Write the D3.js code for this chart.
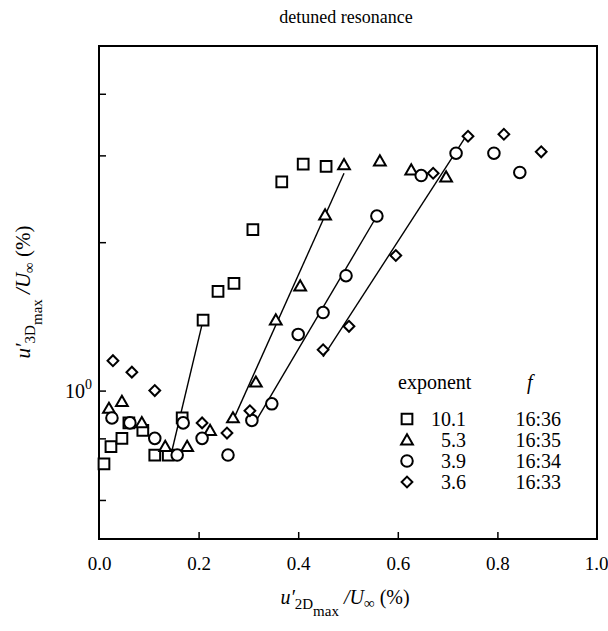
<!DOCTYPE html>
<html><head><meta charset="utf-8">
<script src="https://cdn.jsdelivr.net/npm/d3@7"></script>
<style>body{margin:0;background:#fff} text{font-family:"Liberation Serif","DejaVu Serif","Times New Roman",Times,serif}</style>
</head><body>
<svg id="c" width="608" height="631"></svg>
<script>
// ---- data ----
const xTicks = [0.0, 0.2, 0.4, 0.6, 0.8, 1.0];
const yTicks = [0.6, 0.8, 1, 2, 3, 4];
const seriesNames = ["square", "triangle", "circle", "diamond"];
const exponents = ["10.1", "5.3", "3.9", "3.6"];
const fTimes = ["16:36", "16:35", "16:34", "16:33"];

const sqX = [0.010,0.024,0.046,0.060,0.088,0.112,0.139,0.167,0.209,0.239,0.271,0.309,0.367,0.410,0.456];
const sqY = [0.71,0.77,0.80,0.86,0.83,0.74,0.74,0.88,1.39,1.59,1.65,2.12,2.65,2.88,2.85];
const trX = [0.020,0.046,0.086,0.133,0.177,0.223,0.269,0.315,0.355,0.404,0.454,0.492,0.564,0.627,0.697];
const trY = [0.92,0.95,0.86,0.77,0.77,0.83,0.88,1.04,1.39,1.63,2.27,2.87,2.92,2.80,2.71];
const ciX = [0.026,0.062,0.112,0.157,0.169,0.207,0.259,0.307,0.347,0.400,0.450,0.496,0.558,0.647,0.717,0.793,0.845];
const ciY = [0.88,0.86,0.80,0.74,0.86,0.80,0.74,0.87,0.94,1.30,1.44,1.71,2.26,2.73,3.03,3.03,2.77];
const diX = [0.028,0.066,0.112,0.207,0.257,0.303,0.450,0.502,0.596,0.671,0.741,0.813,0.888];
const diY = [1.15,1.09,1.00,0.86,0.82,0.91,1.21,1.35,1.88,2.76,3.28,3.31,3.05];

// fit lines: [x0, y0, x1, y1]
const fitSq = [0.143, 0.73, 0.209, 1.39];
const fitTr = [0.267, 0.86, 0.492, 2.76];
const fitCi = [0.313, 0.86, 0.558, 2.26];
const fitDi = [0.450, 1.17, 0.741, 3.33];

// ---- layout ----
const L = 99, R = 597, T = 46, B = 539;
const svg = d3.select("#c");
const x = d3.scaleLinear().domain([0, 1]).range([L, R]);
const y = d3.scaleLog().domain([0.5, 5]).range([B, T]);

// title
svg.append("text").attr("x", 346).attr("y", 23).attr("text-anchor", "middle")
  .attr("font-size", 18).text("detuned resonance");

// axes (inner ticks)
const gx = svg.append("g").attr("transform", `translate(0,${B})`)
  .call(d3.axisBottom(x).tickValues(xTicks).tickSizeInner(-7).tickSizeOuter(0).tickPadding(18).tickFormat(d3.format(".1f")));
gx.select(".domain").remove();
gx.selectAll(".tick line").attr("stroke", "#000").attr("stroke-width", 1.5)
  .filter(d => d === 0 || d === 1).remove();
gx.selectAll("text").attr("font-family", null).attr("font-size", 19).attr("fill", "#000");
gx.selectAll("text").filter(d => d === 1).attr("text-anchor", "end").attr("dx", 11);

const gy = svg.append("g").attr("transform", `translate(${L},0)`)
  .call(d3.axisLeft(y).tickValues(yTicks).tickSizeInner(-7).tickSizeOuter(0).tickFormat(""));
gy.select(".domain").remove();
gy.selectAll(".tick line").attr("stroke", "#000").attr("stroke-width", 1.5);

// 10^0 label
const lab = svg.append("text").attr("x", 92).attr("y", y(1) + 7).attr("text-anchor", "end")
  .attr("font-size", 20);
lab.append("tspan").text("10");
lab.append("tspan").attr("dy", -9).attr("font-size", 14).text("0");

// frame
svg.append("rect").attr("x", L).attr("y", T).attr("width", R - L).attr("height", B - T)
  .attr("fill", "none").attr("stroke", "#000").attr("stroke-width", 2);

// fit lines
const fits = [fitSq, fitTr, fitCi, fitDi];
const line = d3.line().x(d => x(d[0])).y(d => y(d[1]));
fits.forEach(f => {
  svg.append("path").attr("d", line([[f[0], f[1]], [f[2], f[3]]]))
    .attr("fill", "none").attr("stroke", "#000").attr("stroke-width", 1.4);
});

// markers
const sym = {
  square: d3.symbol().type(d3.symbolSquare).size(115),
  triangle: d3.symbol().type(d3.symbolTriangle).size(60),
  circle: d3.symbol().type(d3.symbolCircle).size(105),
  diamond: d3.symbol().type(d3.symbolSquare).size(58)
};
function drawMarker(g, name, px, py) {
  const p = g.append("path").attr("d", sym[name]())
    .attr("fill", "#fff").attr("stroke", "#000").attr("stroke-width", 2);
  if (name === "diamond") p.attr("transform", `translate(${px},${py}) rotate(45)`);
  else if (name === "triangle") p.attr("transform", `translate(${px},${py + 1})`);
  else p.attr("transform", `translate(${px},${py})`);
}
const allX = [sqX, trX, ciX, diX], allY = [sqY, trY, ciY, diY];
const mg = svg.append("g");
seriesNames.forEach((n, i) => {
  allX[i].forEach((v, j) => drawMarker(mg, n, x(v), y(allY[i][j])));
});

// legend
svg.append("text").attr("x", 398).attr("y", 389).attr("font-size", 20).text("exponent");
svg.append("text").attr("x", 527).attr("y", 389).attr("font-size", 20)
  .attr("font-style", "italic").text("f");
const rowY = [419, 440, 461, 482];
seriesNames.forEach((n, i) => {
  drawMarker(svg, n, 407, rowY[i]);
  svg.append("text").attr("x", 466).attr("y", rowY[i] + 7).attr("text-anchor", "end")
    .attr("font-size", 20).text(exponents[i]);
  svg.append("text").attr("x", 561).attr("y", rowY[i] + 7).attr("text-anchor", "end")
    .attr("font-size", 20).text(fTimes[i]);
});

// x axis title
const xt = svg.append("text").attr("x", 345).attr("y", 604).attr("text-anchor", "middle")
  .attr("font-size", 20);
xt.append("tspan").attr("font-style", "italic").text("u′");
xt.append("tspan").attr("font-size", 15).attr("dy", 5).text("2D");
xt.append("tspan").attr("font-size", 15).attr("dy", 7).text("max");
xt.append("tspan").attr("font-style", "italic").attr("dy", -12).text(" /U");
xt.append("tspan").attr("font-size", 15).attr("dy", 4).text("∞");
xt.append("tspan").attr("dy", -4).text(" (%)");

// y axis title
const yt = svg.append("text").attr("transform", `translate(30,292) rotate(-90)`).attr("text-anchor", "middle")
  .attr("font-size", 21);
yt.append("tspan").attr("font-style", "italic").text("u′");
yt.append("tspan").attr("font-size", 15).attr("dy", 5).text("3D");
yt.append("tspan").attr("font-size", 15).attr("dy", 7).text("max");
yt.append("tspan").attr("font-style", "italic").attr("dy", -12).text(" /U");
yt.append("tspan").attr("font-size", 15).attr("dy", 4).text("∞");
yt.append("tspan").attr("dy", -4).text(" (%)");
</script>
</body></html>
